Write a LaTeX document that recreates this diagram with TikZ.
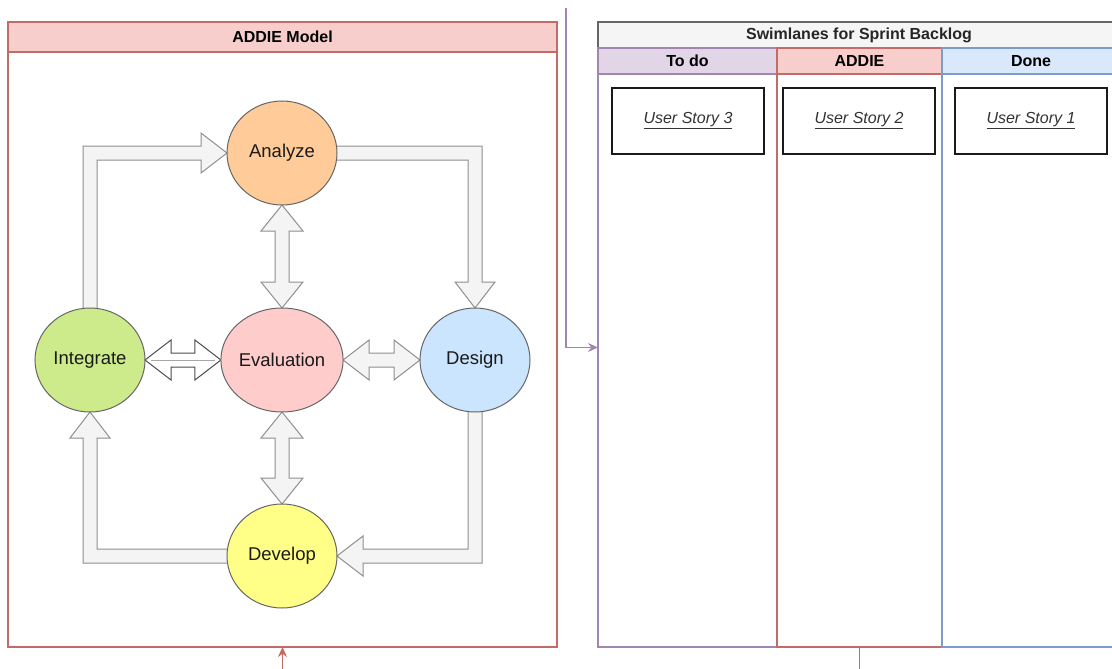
\documentclass[tikz,border=0pt]{standalone}
\usepackage{fontspec}
\setmainfont{Liberation Sans}
\usetikzlibrary{shapes.geometric,calc,arrows.meta}

\definecolor{redln}{HTML}{C46A67}
\definecolor{redfill}{HTML}{F8CECC}
\definecolor{purpln}{HTML}{A286B2}
\definecolor{purpfill}{HTML}{E1D5E7}
\definecolor{blueln}{HTML}{7E9CC8}
\definecolor{bluefill}{HTML}{DAE8FC}
\definecolor{grayln}{HTML}{666666}
\definecolor{grayfill}{HTML}{F5F5F5}
\definecolor{arrln}{HTML}{8F8F8F}
\definecolor{arrfill}{HTML}{F4F4F4}
\definecolor{c-ana}{HTML}{FFCC99}
\definecolor{c-eva}{HTML}{FFCCCC}
\definecolor{c-int}{HTML}{CDEB8B}
\definecolor{c-des}{HTML}{CCE5FF}
\definecolor{c-dev}{HTML}{FFFF88}
\definecolor{txt}{HTML}{1A1A1A}
\definecolor{storytxt}{HTML}{333333}

\pgfdeclarelayer{bg}
\pgfdeclarelayer{mid}
\pgfsetlayers{bg,mid,main}

% vertical two-headed block arrow between a top tip (#1) and a bottom tip (#2)
\newcommand{\vdarr}[3]{%
  \draw[#3] (#1) -- ++(21,26) -- ++(-14,0) -- ($(#2)+(7,-26)$) -- ++(14,0)
    -- (#2) -- ++(-21,-26) -- ++(14,0) -- ($(#1)+(-7,26)$) -- ++(-14,0) -- cycle;}
% horizontal two-headed block arrow between a left tip (#1) and a right tip (#2)
\newcommand{\hdarr}[3]{%
  \draw[#3] (#1) -- ++(26,-20) -- ++(0,13) -- ($(#2)+(-26,-7)$) -- ++(0,-13)
    -- (#2) -- ++(-26,20) -- ++(0,-13) -- ($(#1)+(26,7)$) -- ++(0,13) -- cycle;}

\begin{document}
\begin{tikzpicture}[x=1pt,y=-1pt,
  box/.style={inner sep=0pt,outer sep=0pt,line width=1.1pt,anchor=north west},
  hdr/.style={box,font=\fontsize{16}{19}\selectfont\bfseries,text=black},
  phase/.style={ellipse,draw=grayln,line width=1pt,minimum width=110pt,
    minimum height=104pt,inner sep=0pt,outer sep=0pt,text=txt,
    font=\fontsize{18.5}{22}\selectfont},
  story/.style={draw=txt,line width=1.2pt,fill=white,minimum width=152pt,
    minimum height=66pt,inner sep=0pt,text=storytxt,
    font=\fontsize{16}{19}\selectfont\itshape},
  blk/.style={draw=arrln,fill=arrfill,line width=1pt,line join=miter},
  blkdark/.style={draw=black!70,fill=white,line width=1pt,line join=miter},
  link/.style={line width=1.1pt,-{Stealth[length=10pt,width=9pt]}}]

\useasboundingbox (0,0) rectangle (1112,669);
\clip (0,0) rectangle (1112,669);

% ---- containers ----
\begin{pgfonlayer}{bg}
  \node[box,draw=redln,fill=white,minimum width=549pt,minimum height=625pt] (addie) at (8,22) {};
  \node[hdr,draw=redln,fill=redfill,minimum width=549pt,minimum height=30pt] (addiehd) at (8,22) {ADDIE Model};

  \node[hdr,draw=grayln,fill=grayfill,minimum width=522pt,minimum height=26pt,text=black!85] (swim) at (598,22) {Swimlanes for Sprint Backlog};

  \node[box,draw=purpln,minimum width=179pt,minimum height=599pt] (lane1) at (598,48) {};
  \node[hdr,draw=purpln,fill=purpfill,minimum width=179pt,minimum height=26pt] (lane1hd) at (598,48) {To do};
  \node[box,draw=redln,minimum width=165pt,minimum height=599pt] (lane2) at (777,48) {};
  \node[hdr,draw=redln,fill=redfill,minimum width=165pt,minimum height=26pt] (lane2hd) at (777,48) {ADDIE};
  \node[box,draw=blueln,minimum width=178pt,minimum height=599pt] (lane3) at (942,48) {};
  \node[hdr,draw=blueln,fill=bluefill,minimum width=178pt,minimum height=26pt] (lane3hd) at (942,48) {Done};
\end{pgfonlayer}

% ---- user stories ----
\node[story] (us3) at (688,121) {\underline{User Story 3}};
\node[story] (us2) at (859,121) {\underline{User Story 2}};
\node[story] (us1) at (1031,121) {\underline{User Story 1}};

% ---- ADDIE phases ----
\node[phase,fill=c-ana] (ana) at (282,153) {Analyze};
\node[phase,fill=c-eva] (eva) at (282,360) {Evaluation};
\node[phase,fill=c-int] (int) at (90,360) {Integrate};
\node[phase,fill=c-des] (des) at (475,360) {Design};
\node[phase,fill=c-dev] (dev) at (282,556) {Develop};

\coordinate (c1) at (int.north |- ana.west);
\coordinate (c2) at (des.north |- ana.east);
\coordinate (c3) at (des.south |- dev.east);
\coordinate (c4) at (int.south |- dev.west);

\begin{pgfonlayer}{mid}
  % cycle: Integrate -> Analyze -> Design -> Develop -> Integrate
  \draw[blk] ($(int.north)+(-7,4)$) -- ($(c1)+(-7,-7)$) -- ($(ana.west)+(-26,-7)$)
    -- ++(0,-13) -- (ana.west) -- ++(-26,20) -- ++(0,-13) -- ($(c1)+(7,7)$)
    -- ($(int.north)+(7,4)$) -- cycle;
  \draw[blk] ($(ana.east)+(-4,-7)$) -- ($(c2)+(7,-7)$) -- ($(des.north)+(7,-26)$)
    -- ++(13,0) -- (des.north) -- ++(-20,-26) -- ++(13,0) -- ($(c2)+(-7,7)$)
    -- ($(ana.east)+(-4,7)$) -- cycle;
  \draw[blk] ($(des.south)+(7,-4)$) -- ($(c3)+(7,7)$) -- ($(dev.east)+(26,7)$)
    -- ++(0,13) -- (dev.east) -- ++(26,-20) -- ++(0,13) -- ($(c3)+(-7,-7)$)
    -- ($(des.south)+(-7,-4)$) -- cycle;
  \draw[blk] ($(dev.west)+(4,7)$) -- ($(c4)+(-7,7)$) -- ($(int.south)+(-7,26)$)
    -- ++(-13,0) -- (int.south) -- ++(20,26) -- ++(-13,0) -- ($(c4)+(7,-7)$)
    -- ($(dev.west)+(4,-7)$) -- cycle;

  % evaluation links
  \vdarr{ana.south}{eva.north}{blk}
  \vdarr{eva.south}{dev.north}{blk}
  \hdarr{eva.east}{des.west}{blk}
  \hdarr{int.east}{eva.west}{blkdark}
  \draw[black!35,line width=0.8pt] ($(int.east)+(6,0)$) -- ($(eva.west)+(-6,0)$);
\end{pgfonlayer}

% ---- outside links ----
\coordinate (ptop) at (566,8);
\draw[link,draw=purpln] (ptop) |- (lane1.west);
\coordinate (rbot) at ($(addie.south)+(0,30)$);
\draw[link,draw=redln] (rbot) -- (addie.south);
\coordinate (rout) at ($(lane2.south)+(0,30)$);
\draw[line width=1.1pt,draw=redln] (lane2.south) -- (rout);

\end{tikzpicture}
\end{document}
